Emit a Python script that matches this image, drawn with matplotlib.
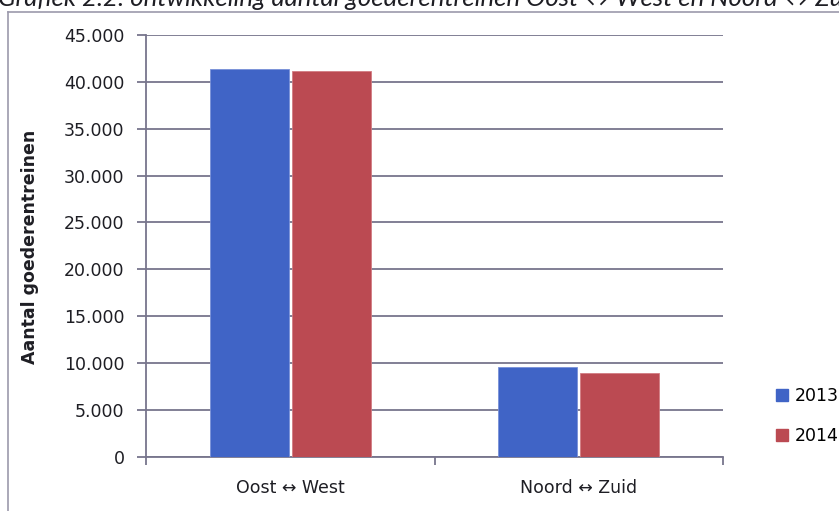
import matplotlib.pyplot as plt
from matplotlib.lines import Line2D
from matplotlib.patches import Patch
from matplotlib.ticker import FuncFormatter
import numpy as np

plt.rcParams["font.family"] = ["DejaVu Sans"]

categories = ["Oost \u2194 West", "Noord \u2194 Zuid"]
years = ["2013", "2014"]
values_2013 = [41400, 9600]
values_2014 = [41200, 8900]
title = "Grafiek 2.2: ontwikkeling aantal goederentreinen Oost \u2194 West en Noord \u2194 Zuid"
ylabel = "Aantal goederentreinen"

BLUE = "#4064c6"
RED = "#bb4a52"
GRID = "#77758c"
TXT = "#1e1e24"

W, H = 839, 511
fig = plt.figure(figsize=(W / 100, H / 100), dpi=100)
fig.patch.set_facecolor("white")

ax = fig.add_axes([146 / W, 1 - 456.7 / H, (723 - 146) / W, (456.7 - 35) / H])

x = np.arange(len(categories))
bw = 0.275
ax.bar(x - 0.142, values_2013, bw, color=BLUE, edgecolor="#7890d8", linewidth=0.6, zorder=3)
ax.bar(x + 0.142, values_2014, bw, color=RED, edgecolor="#d27c82", linewidth=0.6, zorder=3)

ax.set_xlim(-0.5, len(categories) - 0.5)
ax.set_ylim(0, 45000)
ax.set_yticks(np.arange(0, 45001, 5000))
ax.yaxis.set_major_formatter(FuncFormatter(lambda v, p: f"{int(v):,}".replace(",", ".")))
ax.set_xticks(x)
ax.set_xticklabels(categories)
ax.set_xticks([-0.5, 0.5, 1.5], minor=True)

ax.yaxis.grid(True, color=GRID, linewidth=1.3, zorder=0)
ax.set_axisbelow(True)
for s in ["top", "right"]:
    ax.spines[s].set_visible(False)
for s in ["left", "bottom"]:
    ax.spines[s].set_color(GRID)
    ax.spines[s].set_linewidth(1.3)

ax.tick_params(axis="y", length=6.5, width=1.3, color=GRID, pad=9, labelsize=12.5, labelcolor=TXT)
ax.tick_params(axis="x", which="major", length=0, pad=16, labelsize=12.5, labelcolor=TXT)
ax.tick_params(axis="x", which="minor", length=6, width=1.3, color=GRID)

fig.text(30 / W, 1 - 247 / H, ylabel, rotation=90, ha="center", va="center",
         fontsize=12.5, fontweight="bold", color=TXT)

# title, cut off at the top edge as in the scan
fig.text(-2 / W, 1 - 6 / H, title, ha="left", va="baseline", fontsize=18.5,
         style="italic", color=TXT, family="Lato")

# chart frame
fig.add_artist(Line2D([8 / W, 1.01], [1 - 12 / H, 1 - 12 / H], transform=fig.transFigure, color="#9c9aac", lw=1.2))
fig.add_artist(Line2D([8 / W, 8 / W], [1 - 12 / H, -0.01], transform=fig.transFigure, color="#9c9aac", lw=1.2))

handles = [Patch(color=BLUE), Patch(color=RED)]
fig.legend(handles, years, loc="center left", bbox_to_anchor=(776 / W, 1 - 416 / H), frameon=False,
           borderpad=0, borderaxespad=0, fontsize=12.5, handlelength=0.7, handleheight=0.7,
           handletextpad=0.4, labelspacing=1.3)

fig.savefig("out.png", dpi=100)
